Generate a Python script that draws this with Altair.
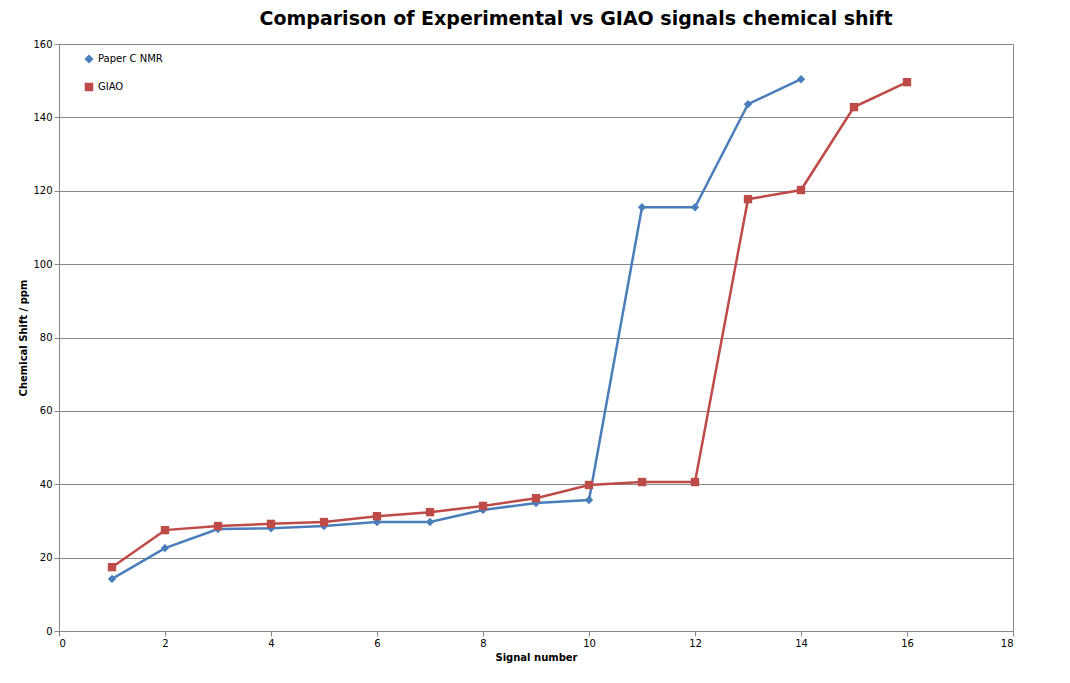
import altair as alt
import pandas as pd

nmr_x = list(range(1, 15))
nmr_y = [14.2, 22.6, 27.8, 28.0, 28.6, 29.7, 29.7, 33.0, 34.9, 35.7, 115.5, 115.5, 143.6, 150.4]
giao_x = list(range(1, 17))
giao_y = [17.4, 27.5, 28.6, 29.2, 29.7, 31.3, 32.4, 34.1, 36.2, 39.8, 40.6, 40.6, 117.7, 120.2, 142.8, 149.6]

df = pd.concat([
    pd.DataFrame({"x": nmr_x, "y": nmr_y, "series": "Paper C NMR"}),
    pd.DataFrame({"x": giao_x, "y": giao_y, "series": "GIAO"}),
])

order = ["Paper C NMR", "GIAO"]
color = alt.Color("series:N", sort=order,
                  scale=alt.Scale(domain=order, range=["#4a7ebb", "#be4b48"]),
                  legend=alt.Legend(title=None, orient="none", legendX=25, legendY=10,
                                    labelFont="DejaVu Sans", labelFontSize=10,
                                    rowPadding=14, symbolSize=50))
shape = alt.Shape("series:N", sort=order,
                  scale=alt.Scale(domain=order, range=["diamond", "square"]), legend=None)

base = alt.Chart(df).encode(
    x=alt.X("x:Q", title="Signal number", scale=alt.Scale(domain=[0, 18]),
            axis=alt.Axis(values=list(range(0, 19, 2)), grid=False)),
    y=alt.Y("y:Q", title="Chemical Shift / ppm", scale=alt.Scale(domain=[0, 160]),
            axis=alt.Axis(values=list(range(0, 161, 20)))),
    color=color,
)

lines = base.mark_line(strokeWidth=2.5)
points = base.mark_point(filled=True, size=70, opacity=1).encode(shape=shape)

chart = (
    alt.layer(lines, points)
    .properties(
        width=954, height=587,
        title=alt.Title("Comparison of Experimental vs GIAO signals chemical shift",
                        font="DejaVu Sans", fontSize=19, fontWeight="bold",
                        anchor="middle", offset=10, dx=40),
        padding={"left": 51, "top": 36, "right": 40, "bottom": 40},
        autosize=alt.AutoSizeParams(type="none"),
        background="white",
    )
    .configure_view(stroke="#888888")
    .configure_axis(labelFont="DejaVu Sans", labelFontSize=10, labelColor="black",
                    titleFont="DejaVu Sans", titleFontSize=10, titleFontWeight="bold",
                    gridColor="#888888", domainColor="#888888", tickColor="#888888")
)

chart.save("out.html", embed_options={"renderer": "svg", "actions": False})
